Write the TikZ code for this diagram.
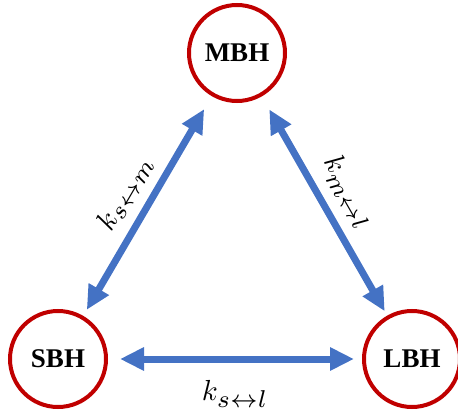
\documentclass[tikz,border=0pt]{standalone}
\usepackage{amsmath}
\usepackage{graphicx}
\usepackage{fontspec}
\setmainfont{Liberation Serif}
\usetikzlibrary{arrows.meta}

\definecolor{bhred}{HTML}{C00000}
\definecolor{linkblue}{HTML}{4472C4}

% rate constant with a larger subscript
\newcommand{\rateK}[1]{$k_{\scalebox{1.2}{$\scriptstyle #1$}}$}

\begin{document}
\begin{tikzpicture}
  [x=1pt,y=-1pt,
   bh/.style={draw=bhred,circle,line width=4pt,minimum size=96pt,inner sep=0pt,
              font=\fontsize{27}{30}\selectfont\bfseries},
   link/.style={draw=linkblue,line width=7pt,
                {Triangle[width=22pt,length=24pt]}-{Triangle[width=22pt,length=24pt]}},
   rate/.style={scale=2.9,inner sep=0.3pt}]
  \useasboundingbox (0,0) rectangle (458,412);
  \node[bh] (nm) at (237,53)  {MBH};
  \node[bh] (ns) at (58,359)  {SBH};
  \node[bh] (nl) at (412,359) {LBH};
  \draw[link,shorten <=7pt,shorten >=15pt] (ns) -- (nm)
    node[rate,midway,sloped,above=1pt] {\rateK{s\leftrightarrow m}};
  \draw[link,shorten <=15pt,shorten >=5pt] (nm) -- (nl)
    node[rate,midway,sloped,above=1pt] {\rateK{m\leftrightarrow l}};
  \draw[link,shorten <=12pt,shorten >=8pt] (ns) -- (nl)
    node[rate,midway,below=3.5pt] {\rateK{s\leftrightarrow l}};
\end{tikzpicture}
\end{document}
